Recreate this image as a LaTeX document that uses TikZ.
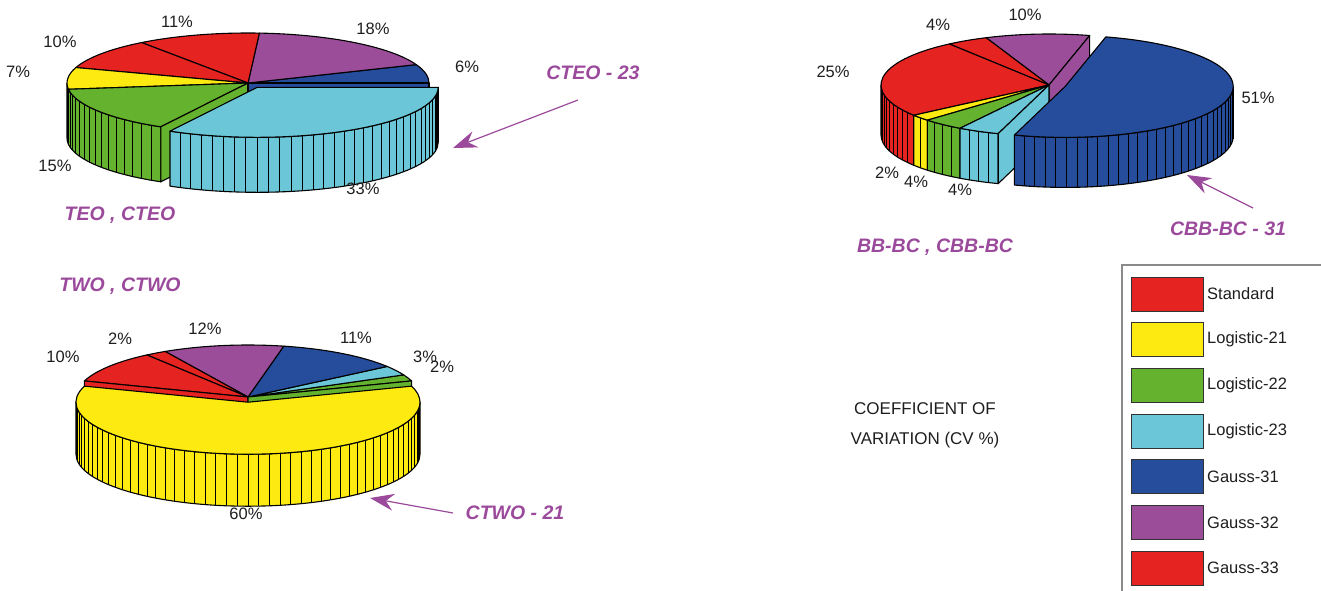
\documentclass[tikz,border=0pt]{standalone}
\usepackage{fontspec}
\setmainfont{Liberation Sans}
\usetikzlibrary{arrows.meta}

\definecolor{cStd}{HTML}{E52421}
\definecolor{cYel}{HTML}{FCEA10}
\definecolor{cGrn}{HTML}{65B22E}
\definecolor{cCya}{HTML}{6BC6D8}
\definecolor{cBlu}{HTML}{264C9C}
\definecolor{cPur}{HTML}{9B4D9A}
\definecolor{cLbl}{HTML}{9B4A9B}
\definecolor{cTxt}{HTML}{1E1E1E}
\definecolor{cFrame}{HTML}{8A8A8A}

% current pie: centre x, centre y, x radius, y radius, wall height
\newcommand\setpie[5]{\def\pcx{#1}\def\pcy{#2}\def\prx{#3}\def\pry{#4}\def\ph{#5}}
% point on the rim of the current pie at angle #1
\newcommand\rim[1]{({\prx*cos(#1)},{\pry*sin(#1)})}

% front wall of a slice: #1 start, #2 end, #3 facets, #4 colour, #5 dx, #6 dy
\newcommand\slicewall[6]{%
  \pgfmathsetmacro\wA{max(#1,180)}%
  \pgfmathsetmacro\wB{min(#2,360)}%
  \pgfmathsetmacro\wStep{(#2-#1)/#3}%
  \begin{scope}[shift={({\pcx+(#5)},{\pcy+(#6)})}]
    \filldraw[fill=#4,sliceline] \rim{\wA}
      arc[start angle=\wA,end angle=\wB,x radius=\prx,y radius=\pry]
      -- ++(0,-\ph)
      arc[start angle=\wB,end angle=\wA,x radius=\prx,y radius=\pry] -- cycle;
    \foreach \k in {1,...,#3}{%
      \pgfmathsetmacro\wT{#1+\k*\wStep}%
      \pgfmathtruncatemacro\wOk{(\wT>\wA+0.01)*(\wT<\wB-0.01)}%
      \ifnum\wOk=1 \draw[facetline] \rim{\wT} -- ++(0,-\ph);\fi
    }
  \end{scope}}

% top face of a slice: #1 start, #2 end, #3 colour, #4 dx, #5 dy
\newcommand\slicetop[5]{%
  \begin{scope}[shift={({\pcx+(#4)},{\pcy+(#5)})}]
    \filldraw[fill=#3,sliceline] (0,0) -- \rim{#1}
      arc[start angle=#1,end angle=#2,x radius=\prx,y radius=\pry] -- cycle;
  \end{scope}}

% radial face of a slice left open by an exploded neighbour: #1 angle, #2 colour
\newcommand\sliceface[2]{%
  \begin{scope}[shift={(\pcx,\pcy)}]
    \filldraw[fill=#2,sliceline] (0,0) -- \rim{#1} -- ++(0,-\ph) -- (0,-\ph) -- cycle;
  \end{scope}}

\begin{document}
\begin{tikzpicture}[x=1pt,y=1pt,
  sliceline/.style={draw=black,line width=1.1pt,line join=round},
  facetline/.style={draw=black,line width=0.8pt},
  pct/.style={font=\fontsize{16.5}{18}\selectfont,text=cTxt,inner sep=0pt},
  ttl/.style={font=\fontsize{19.5}{22}\selectfont\bfseries\itshape,text=cLbl,inner sep=0pt},
  legtxt/.style={font=\fontsize{16.5}{18}\selectfont,text=cTxt,inner sep=0pt,anchor=west},
  swatch/.style={draw=black!80,line width=1pt,minimum width=72pt,minimum height=34pt,inner sep=0pt},
  callarrow/.style={draw=cLbl,line width=1.2pt,-{Stealth[length=24pt,width=17pt,inset=8pt]}}]
\useasboundingbox (0,0) rectangle (1321,-590);

% ---------- TEO , CTEO ----------
\setpie{248}{-83}{181}{50}{55}
\slicewall{162}{187.2}{7}{cYel}{0}{0}
\slicewall{187.2}{241.2}{15}{cGrn}{0}{0}
\slicetop{0}{21.6}{cBlu}{0}{0}
\slicetop{21.6}{86.4}{cPur}{0}{0}
\slicetop{86.4}{126}{cStd}{0}{0}
\slicetop{126}{162}{cStd}{0}{0}
\slicetop{162}{187.2}{cYel}{0}{0}
\slicetop{187.2}{241.2}{cGrn}{0}{0}
\sliceface{241.2}{cGrn}
\sliceface{0}{cBlu}
\slicewall{241.2}{360}{33}{cCya}{9.2}{-4.3}
\slicetop{241.2}{360}{cCya}{9.2}{-4.3}

\node[pct] (t11) at (177,-22) {11\%};
\node[pct] (t10) at (60,-42) {10\%};
\node[pct] (t7) at (18,-72) {7\%};
\node[pct] (t18) at (373,-29) {18\%};
\node[pct] (t6) at (467,-67) {6\%};
\node[pct] (t15) at (55,-166) {15\%};
\node[pct] (t33) at (363,-189) {33\%};
\node[ttl] (teo) at (120,-215) {TEO , CTEO};
\node[ttl] (cteo) at (593,-73) {CTEO - 23};
\coordinate (cteo-tail) at (578,-100);
\coordinate (cteo-tip) at (453,-148);
\draw[callarrow] (cteo-tail) -- (cteo-tip);

% ---------- BB-BC , CBB-BC ----------
\setpie{1049}{-85}{168}{51}{50}
\slicewall{126.4}{216.4}{25}{cStd}{0}{0}
\slicewall{216.4}{223.6}{2}{cYel}{0}{0}
\slicewall{223.6}{238}{4}{cGrn}{0}{0}
\slicewall{238}{252.4}{4}{cCya}{0}{0}
\slicetop{76}{112}{cPur}{0}{0}
\slicetop{112}{126.4}{cStd}{0}{0}
\slicetop{126.4}{216.4}{cStd}{0}{0}
\slicetop{216.4}{223.6}{cYel}{0}{0}
\slicetop{223.6}{238}{cGrn}{0}{0}
\slicetop{238}{252.4}{cCya}{0}{0}
\sliceface{76}{cPur}
\sliceface{252.4}{cCya}
\slicewall{252.4}{436}{51}{cBlu}{16.2}{-1.4}
\slicetop{252.4}{436}{cBlu}{16.2}{-1.4}

\node[pct] (b10) at (1025,-15) {10\%};
\node[pct] (b4a) at (938,-25) {4\%};
\node[pct] (b25) at (833,-72) {25\%};
\node[pct] (b51) at (1258,-98) {51\%};
\node[pct] (b2) at (887,-173) {2\%};
\node[pct] (b4b) at (916,-182) {4\%};
\node[pct] (b4c) at (960,-190) {4\%};
\node[ttl] (cbb) at (1228,-229) {CBB-BC - 31};
\node[ttl] (bbbc) at (935,-247) {BB-BC , CBB-BC};
\coordinate (cbb-tail) at (1253,-208);
\coordinate (cbb-tip) at (1187,-175);
\draw[callarrow] (cbb-tail) -- (cbb-tip);

% ---------- TWO , CTWO ----------
\setpie{248}{-397}{172}{52}{52}
\slicetop{18}{25.2}{cGrn}{0}{0}
\slicetop{25.2}{36}{cCya}{0}{0}
\slicetop{36}{78}{cBlu}{0}{0}
\slicetop{78}{118.8}{cPur}{0}{0}
\slicetop{118.8}{126}{cStd}{0}{0}
\slicetop{126}{162}{cStd}{0}{0}
\sliceface{162}{cStd}
\sliceface{18}{cGrn}
\slicewall{162}{378}{60}{cYel}{0}{-5.2}
\slicetop{162}{378}{cYel}{0}{-5.2}

\node[ttl] (two) at (120,-286) {TWO , CTWO};
\node[pct] (w12) at (205,-329) {12\%};
\node[pct] (w2a) at (120,-339) {2\%};
\node[pct] (w10) at (63,-357) {10\%};
\node[pct] (w11) at (356,-338) {11\%};
\node[pct] (w3) at (425,-357) {3\%};
\node[pct] (w2b) at (442,-367) {2\%};
\node[pct] (w60) at (246,-514) {60\%};
\node[ttl] (ctwo) at (515,-513) {CTWO - 21};
\coordinate (ctwo-tail) at (453,-513);
\coordinate (ctwo-tip) at (370,-498);
\draw[callarrow] (ctwo-tail) -- (ctwo-tip);

% ---------- caption ----------
\node[font=\fontsize{17}{30}\selectfont,text=cTxt,align=center,inner sep=0pt] (cv) at (925,-425)
  {COEFFICIENT OF\\VARIATION (CV \%)};

% ---------- legend ----------
\draw[cFrame,line width=1.5pt] (1122,-600) -- (1122,-265) -- (1330,-265);
\foreach \i/\c/\n in {0/cStd/Standard,1/cYel/Logistic-21,2/cGrn/Logistic-22,
                      3/cCya/Logistic-23,4/cBlu/Gauss-31,5/cPur/Gauss-32,6/cStd/Gauss-33}{
  \node[swatch,fill=\c] (sw\i) at (1167,{-294-45.7*\i}) {};
  \node[legtxt] (lg\i) at (1207,{-294-45.7*\i}) {\n};
}
\end{tikzpicture}
\end{document}
